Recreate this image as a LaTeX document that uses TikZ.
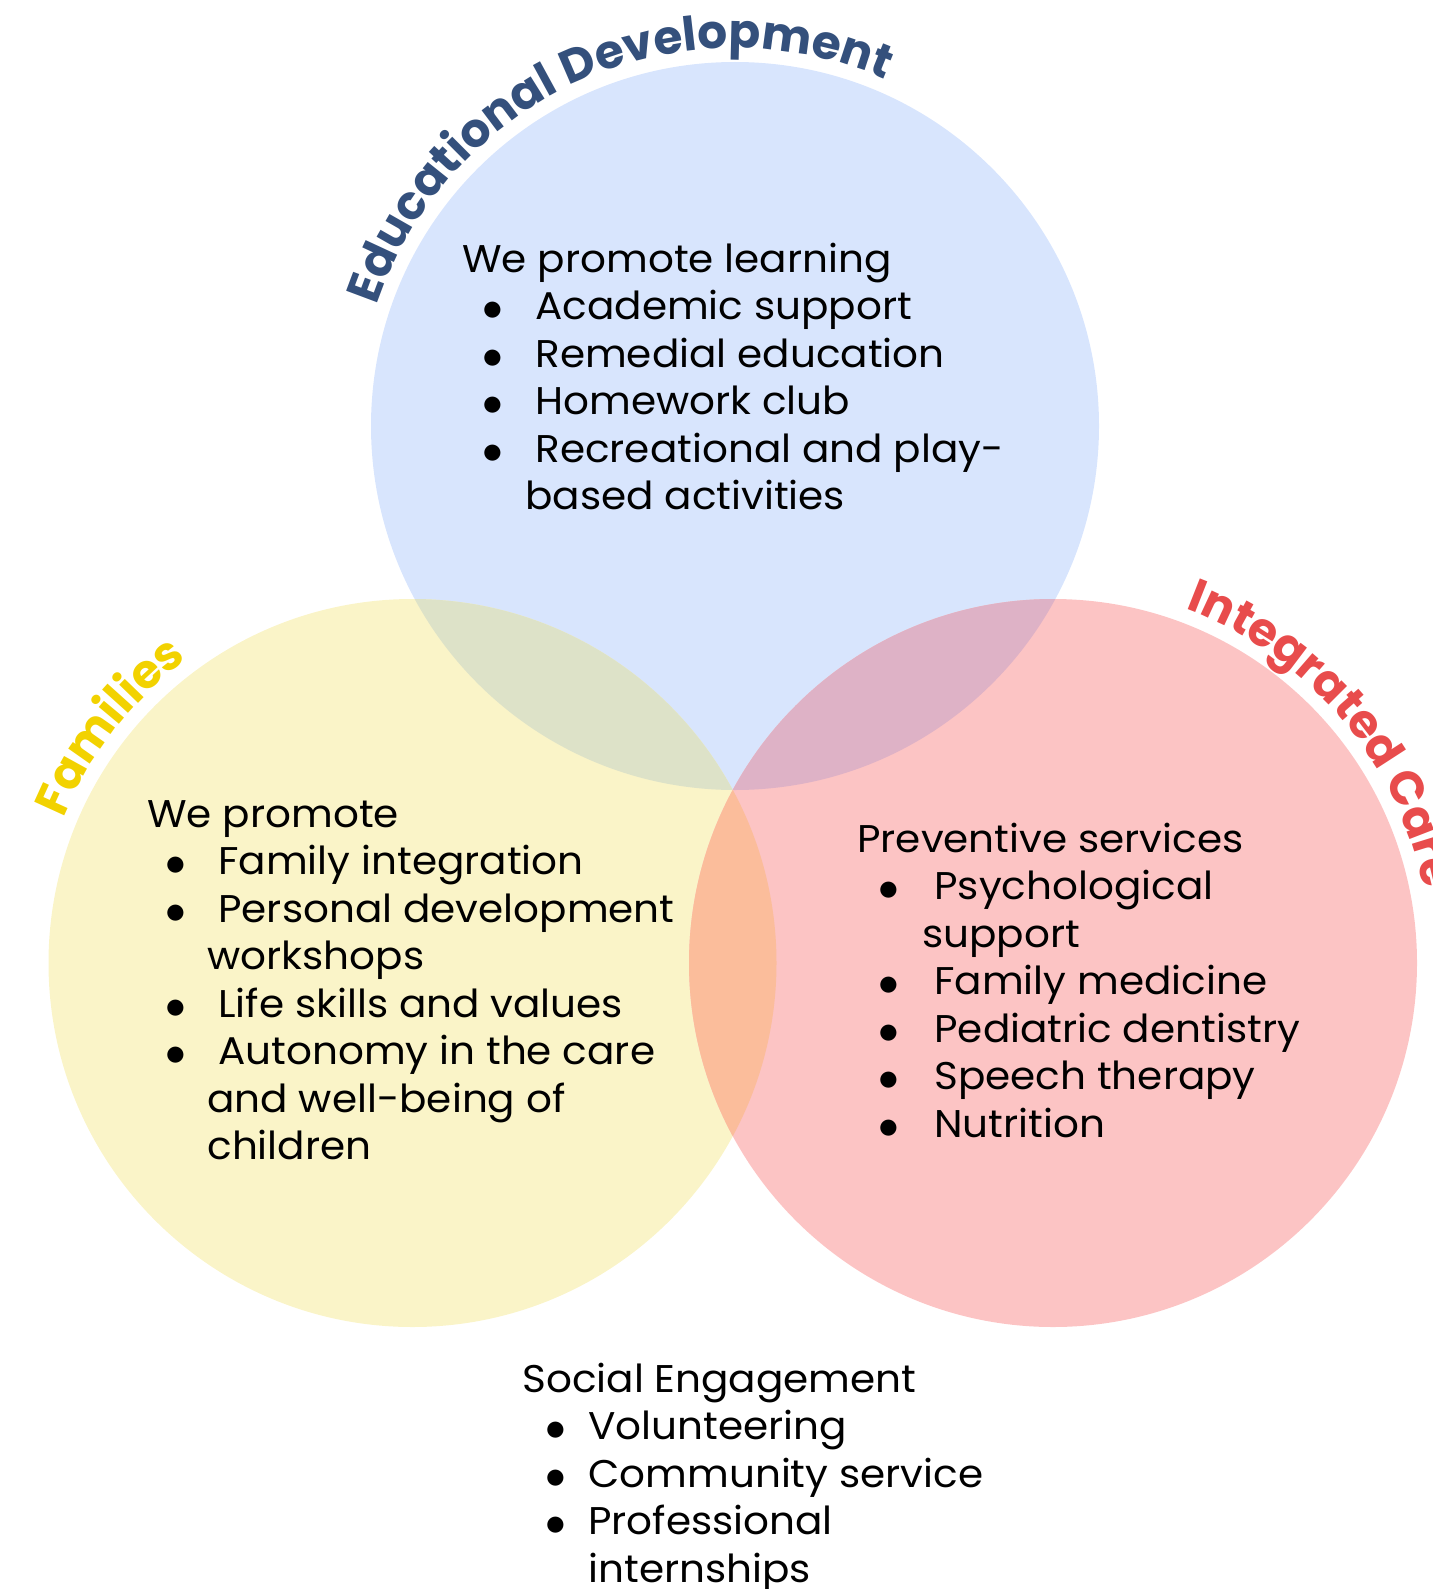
\documentclass[tikz,border=0pt]{standalone}
\usepackage{fontspec}
\setmainfont{Poppins}[FakeStretch=1.05]
\newfontfamily\titlefam{Poppins}
\usetikzlibrary{decorations.text}
\definecolor{cblue}{HTML}{D8E5FD}
\definecolor{cyellow}{HTML}{FAF4C8}
\definecolor{cpink}{HTML}{FCC4C4}
\definecolor{cyb}{HTML}{DDE2C8}
\definecolor{cbp}{HTML}{DEB2C6}
\definecolor{cyp}{HTML}{FBBD9B}
\definecolor{tblue}{HTML}{34507C}
\definecolor{tyellow}{HTML}{F2D200}
\definecolor{tred}{HTML}{E84C4C}
\newcommand\mybul{\raisebox{-0.5pt}{\fontsize{21}{21}\selectfont$\bullet$}}
\newcommand\bitem[3]{\makebox[#2][l]{\hspace*{#1}\makebox[0pt][c]{\mybul}}#3}
\newcommand\cont[2]{\hspace*{#1}#2}
\newcommand\titlefont{\titlefam\fontsize{23.5}{28}\selectfont\bfseries}
\tikzset{
  body/.style={anchor=north west, inner sep=0pt, align=left,
    font=\fontsize{19.3}{23.75}\selectfont},
  arctitle/.style={decorate, decoration={text along path, text align=#1}}
}
\begin{document}
\begin{tikzpicture}[x=0.5pt,y=0.5pt]
\useasboundingbox (0,0) rectangle (1433,-1589);
\clip (0,0) rectangle (1433,-1589);
\coordinate (cB) at (735,-426);
\coordinate (cY) at (412.5,-963);
\coordinate (cP) at (1053,-963);
\def\R{364}
% circles
\fill[cblue] (cB) circle[radius=\R];
\fill[cyellow] (cY) circle[radius=\R];
\fill[cpink] (cP) circle[radius=\R];
\begin{scope}
  \clip (cB) circle[radius=\R];
  \fill[cyb] (cY) circle[radius=\R];
  \fill[cbp] (cP) circle[radius=\R];
\end{scope}
\begin{scope}
  \clip (cY) circle[radius=\R];
  \fill[cyp] (cP) circle[radius=\R];
\end{scope}
% curved titles
\path[arctitle=center, decoration={text={|\titlefont\color{tblue}|Educational Development}}]
  (cB) ++(190:378) arc[start angle=190, end angle=38, radius=378];
\path[arctitle=center, decoration={text={|\titlefont\color{tyellow}|Families}}]
  (cY) ++(180:378) arc[start angle=180, end angle=104, radius=378];
\path[arctitle=left, decoration={text={|\titlefont\color{tred}|Integrated Care}}]
  (cP) ++(69.5:378) arc[start angle=69.5, end angle=-40, radius=378];
% text blocks
\node[body] (edu) at (462,-238.75) {\strut We promote learning\\
  \bitem{15pt}{36.5pt}{Academic support}\\
  \bitem{15pt}{36.5pt}{Remedial education}\\
  \bitem{15pt}{36.5pt}{Homework club}\\
  \bitem{15pt}{36.5pt}{Recreational and play-}\\
  \cont{31.5pt}{based activities}};
\node[body] (fam) at (147,-793.75) {\strut We promote\\
  \bitem{14pt}{35.5pt}{Family integration}\\
  \bitem{14pt}{35.5pt}{Personal development}\\
  \cont{30pt}{workshops}\\
  \bitem{14pt}{35.5pt}{Life skills and values}\\
  \bitem{14pt}{35.5pt}{Autonomy in the care}\\
  \cont{30pt}{and well-being of}\\
  \cont{30pt}{children}};
\node[body] (care) at (857,-818.75) {\strut Preventive services\\
  \bitem{15.5pt}{38.5pt}{Psychological}\\
  \cont{32.5pt}{support}\\
  \bitem{15.5pt}{38.5pt}{Family medicine}\\
  \bitem{15.5pt}{38.5pt}{Pediatric dentistry}\\
  \bitem{15.5pt}{38.5pt}{Speech therapy}\\
  \bitem{15.5pt}{38.5pt}{Nutrition}};
\node[body] (soc) at (522,-1358.75) {\strut Social Engagement\\
  \bitem{16.5pt}{33pt}{Volunteering}\\
  \bitem{16.5pt}{33pt}{Community service}\\
  \bitem{16.5pt}{33pt}{Professional}\\
  \cont{33pt}{internships}};
\end{tikzpicture}
\end{document}
